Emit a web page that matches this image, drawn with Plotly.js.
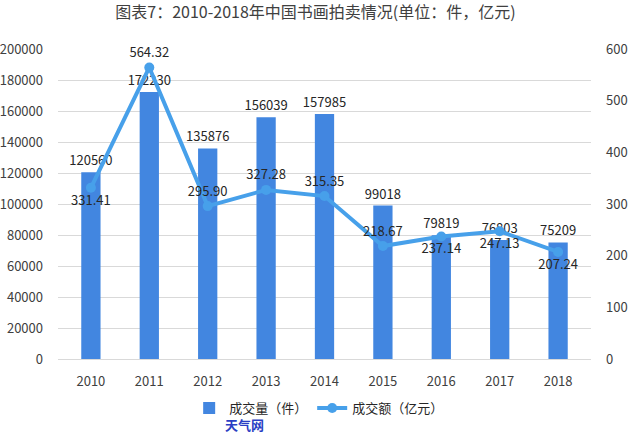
<!DOCTYPE html>
<html><head><meta charset="utf-8">
<script src="https://cdn.plot.ly/plotly-3.0.1.min.js"></script>
<style>body{margin:0;background:#fff}#c{width:631px;height:443px}</style>
</head><body><div id="c"></div>
<script>
const years = ['2010','2011','2012','2013','2014','2015','2016','2017','2018'];
const volume = [120560,172230,135876,156039,157985,99018,79819,76803,75209];
const amount = [331.41,564.32,295.90,327.28,315.35,218.67,237.14,247.13,207.24];
const amountLabels = ['331.41','564.32','295.90','327.28','315.35','218.67','237.14','247.13','207.24'];
const amountLabelPos = ['bottom center','top center','top center','top center','top center','top center','bottom center','bottom center','bottom center'];
const font = '"Noto Sans CJK SC", "Microsoft YaHei", sans-serif';
const traces = [
 {type:'bar', x:years, y:volume, name:'成交量（件）', marker:{color:'#4286e0'}, width:0.33,
  text:volume.map(String), textposition:'outside', constraintext:'none', cliponaxis:false,
  textfont:{size:13,color:'#262626',family:font}},
 {type:'scatter', mode:'lines+markers+text', x:years, y:amount, yaxis:'y2', name:'成交额（亿元）',
  line:{color:'#47a0ea',width:4}, marker:{color:'#47a0ea',size:10},
  text:amountLabels, textposition:amountLabelPos, cliponaxis:false,
  textfont:{size:13,color:'#262626',family:font}}
];
const layout = {
 width:631,height:443,margin:{l:58,r:40,t:49,b:84},
 paper_bgcolor:'#fff',plot_bgcolor:'#fff',
 font:{family:font,size:12,color:'#404040'},
 title:{text:'图表7：2010-2018年中国书画拍卖情况(单位：件，亿元)',font:{size:16,color:'#404040',family:font},x:0.5,xanchor:'center',y:0.972,yanchor:'middle'},
 showlegend:true,
 legend:{orientation:'h',x:0.49,xanchor:'center',y:-0.11,yanchor:'top',font:{size:13,color:'#262626'}},
 xaxis:{type:'category',showgrid:false,showline:true,linecolor:'#d9d9d9',ticks:'',ticklabelstandoff:10,tickfont:{size:13,color:'#404040'}},
 yaxis:{range:[0,200000],dtick:20000,tickformat:'d',gridcolor:'#d9d9d9',zeroline:false,showline:false,ticklabelstandoff:14,tickfont:{size:13,color:'#404040'}},
 yaxis2:{range:[0,600],dtick:100,overlaying:'y',side:'right',showgrid:false,zeroline:false,ticklabelstandoff:14,tickfont:{size:13,color:'#404040'}},
 annotations:[{text:'<b>天气网</b>',xref:'paper',yref:'paper',x:0.35,y:-0.175,xanchor:'center',yanchor:'top',showarrow:false,font:{size:13,color:'#2a3fc4'}}]
};
Plotly.newPlot('c',traces,layout,{displayModeBar:false});
</script></body></html>
